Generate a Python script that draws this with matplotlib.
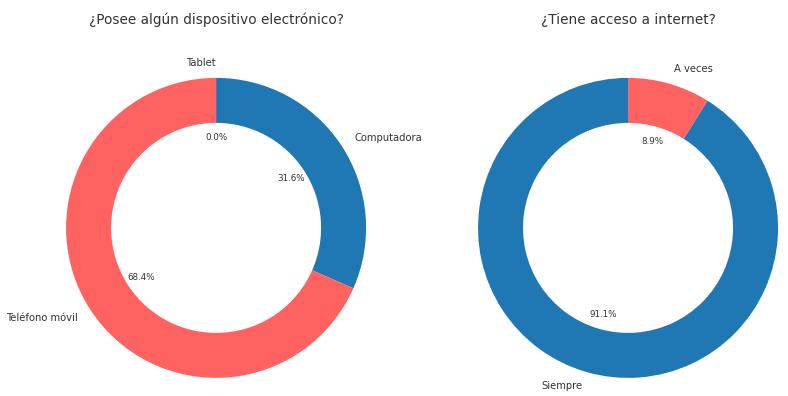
import matplotlib.pyplot as plt

# datos
disp_labels = ["Tablet", "Computadora", "Teléfono móvil"]
disp_values = [0.0, 31.6, 68.4]
disp_colors = ["#ff6361", "#1f77b4", "#ff6361"]

inet_labels = ["A veces", "Siempre"]
inet_values = [8.9, 91.1]
inet_colors = ["#ff6361", "#1f77b4"]

titles = ["¿Posee algún dispositivo electrónico?", "¿Tiene acceso a internet?"]

fig = plt.figure(figsize=(7.88, 3.96), dpi=100)
ax1 = fig.add_axes([0.0362, -0.049, 0.476, 0.947])
ax2 = fig.add_axes([0.559, -0.049, 0.476, 0.947])

for ax, labels, values, colors, title in [
        (ax1, disp_labels, disp_values, disp_colors, titles[0]),
        (ax2, inet_labels, inet_values, inet_colors, titles[1])]:
    wedges, texts, autotexts = ax.pie(values, labels=labels, colors=colors, autopct="%1.1f%%",
                                      startangle=90, counterclock=False, pctdistance=0.6,
                                      wedgeprops=dict(width=0.3),
                                      textprops=dict(color="#333333", fontsize=7.2))
    for t in autotexts:
        t.set_fontsize(6.3)
    ax.set_title(title, fontsize=9.8, color="#333333", pad=12)
    ax.set_aspect("equal")

fig.savefig("out.png", dpi=100)
